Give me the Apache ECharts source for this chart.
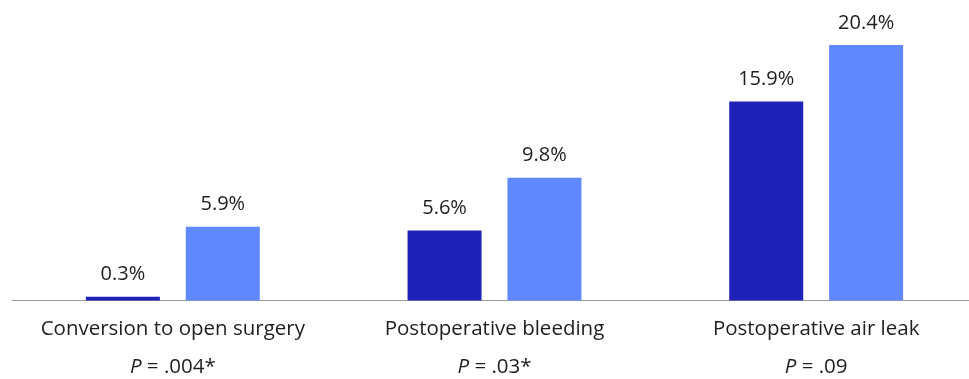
<!DOCTYPE html>
<html>
<head>
<meta charset="utf-8">
<script src="https://cdn.jsdelivr.net/npm/echarts@6/dist/echarts.min.js"></script>
<style>
  html, body { margin: 0; padding: 0; background: #fff; }
  #chart { width: 969px; height: 379px; }
</style>
</head>
<body>
<div id="chart"></div>
<script>
// Complication rates (%) by outcome
const categories = ['Conversion to open surgery', 'Postoperative bleeding', 'Postoperative air leak'];
const pValues = ['.004*', '.03*', '.09'];
const groupA = [0.3, 5.6, 15.9];
const groupB = [5.9, 9.8, 20.4];

const chart = echarts.init(document.getElementById('chart'));
const font = '"Open Sans", Lato, sans-serif';
const textColor = '#1e1e1e';

const valueLabel = {
  show: true, position: 'top', distance: 12,
  formatter: p => p.value.toFixed(1) + '%',
  color: textColor, fontFamily: font, fontSize: 20
};

chart.setOption({
  animation: false,
  grid: { left: 12, right: -8, top: 0, bottom: 78.5, containLabel: false, outerBoundsMode: 'none' },
  xAxis: {
    type: 'category',
    data: categories,
    axisLine: { lineStyle: { color: '#9a9a9a', width: 1 } },
    axisTick: { show: false },
    axisLabel: {
      interval: 0,
      hideOverlap: false,
      margin: 10,
      formatter: function (v, i) {
        return v + '\n{i|P} = ' + pValues[i];
      },
      color: textColor,
      fontFamily: font,
      fontSize: 20.5,
      lineHeight: 38,
      rich: {
        i: { fontStyle: 'italic', fontFamily: font, fontSize: 20.5, color: textColor, lineHeight: 38 }
      }
    }
  },
  yAxis: {
    type: 'value',
    min: 0,
    max: 24,
    show: false,
    splitLine: { show: false }
  },
  series: [
    {
      type: 'bar',
      data: groupA,
      barWidth: 74,
      barGap: '35%',
      itemStyle: { color: '#1f22b8' },
      label: valueLabel
    },
    {
      type: 'bar',
      data: groupB,
      barWidth: 74,
      barGap: '35%',
      itemStyle: { color: '#6088ff' },
      label: valueLabel
    }
  ]
});
</script>
</body>
</html>
